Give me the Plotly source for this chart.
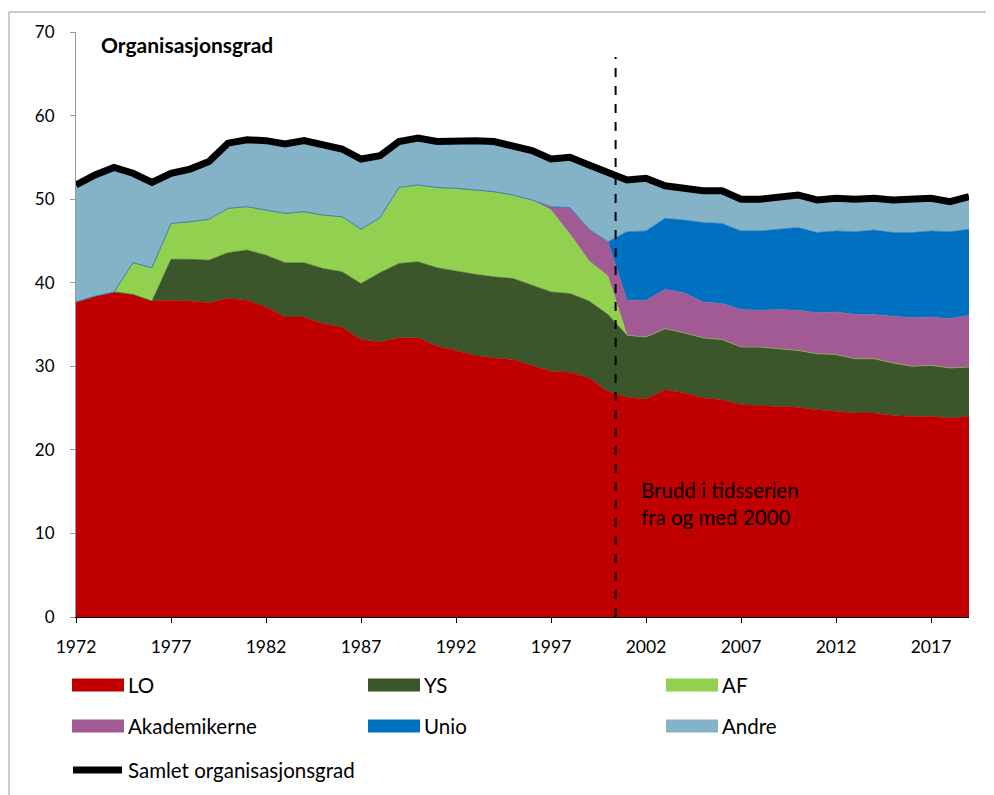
import plotly.graph_objects as go

years = list(range(1972, 2020))

lo = [37.7, 38.4, 38.9, 38.6, 37.8, 37.9, 37.8, 37.6, 38.1, 37.9,
      37.1, 35.9, 35.9, 35.1, 34.7, 33.2, 32.9, 33.4, 33.4, 32.4,
      31.9, 31.3, 31.0, 30.8, 30.1, 29.4, 29.3, 28.6, 27.0, 26.3,
      26.1, 27.2, 26.8, 26.2, 26.0, 25.4, 25.3, 25.2, 25.1, 24.8,
      24.6, 24.4, 24.4, 24.1, 24.0, 24.0, 23.8, 24.0]
ys = [0, 0, 0, 0, 0, 4.9, 5.0, 5.1, 5.5, 6.0,
      6.2, 6.5, 6.5, 6.6, 6.6, 6.7, 8.3, 8.9, 9.1, 9.4,
      9.5, 9.7, 9.7, 9.7, 9.6, 9.5, 9.4, 9.2, 9.2, 7.4,
      7.4, 7.3, 7.2, 7.2, 7.2, 6.9, 7.0, 6.9, 6.8, 6.7,
      6.8, 6.5, 6.5, 6.3, 6.0, 6.1, 6.0, 5.9]
af = [0, 0, 0, 3.8, 4.0, 4.3, 4.5, 4.9, 5.3, 5.2,
      5.4, 5.9, 6.1, 6.4, 6.6, 6.5, 6.6, 9.1, 9.2, 9.6,
      9.9, 10.1, 10.2, 10.0, 10.2, 9.8, 7.1, 4.8, 4.6, 0,
      0, 0, 0, 0, 0, 0, 0, 0, 0, 0,
      0, 0, 0, 0, 0, 0, 0, 0]
akad = [0, 0, 0, 0, 0, 0, 0, 0, 0, 0,
        0, 0, 0, 0, 0, 0, 0, 0, 0, 0,
        0, 0, 0, 0, 0, 0.4, 3.2, 3.8, 4.1, 4.2,
        4.4, 4.7, 4.8, 4.3, 4.3, 4.5, 4.4, 4.7, 4.8, 4.9,
        5.1, 5.3, 5.3, 5.6, 5.8, 5.8, 5.9, 6.2]
unio = [0, 0, 0, 0, 0, 0, 0, 0, 0, 0,
        0, 0, 0, 0, 0, 0, 0, 0, 0, 0,
        0, 0, 0, 0, 0, 0, 0, 0, 0, 8.2,
        8.3, 8.5, 8.7, 9.5, 9.6, 9.4, 9.5, 9.6, 9.9, 9.6,
        9.7, 9.9, 10.1, 10.0, 10.2, 10.3, 10.4, 10.3]
andre = [14.0, 14.5, 14.9, 10.7, 10.2, 6.0, 6.3, 6.9, 7.8, 8.0,
         8.3, 8.3, 8.5, 8.4, 8.1, 8.4, 7.4, 5.5, 5.6, 5.5,
         5.7, 5.9, 6.0, 5.8, 5.9, 5.7, 6.0, 7.7, 8.2, 6.2,
         6.3, 3.9, 3.8, 3.8, 3.9, 3.8, 3.8, 3.8, 3.9, 3.9,
         3.9, 3.9, 3.8, 3.9, 3.9, 3.9, 3.6, 3.9]
samlet = [51.7, 52.9, 53.8, 53.1, 52.0, 53.1, 53.6, 54.5, 56.7, 57.1,
          57.0, 56.6, 57.0, 56.5, 56.0, 54.8, 55.2, 56.9, 57.3, 56.9,
          57.0, 57.0, 56.9, 56.3, 55.8, 54.8, 55.0, 54.1, 53.1, 52.3,
          52.5, 51.6, 51.3, 51.0, 51.0, 50.0, 50.0, 50.2, 50.5, 49.9,
          50.1, 50.0, 50.1, 49.9, 49.9, 50.1, 49.7, 50.3]

series_names = ["LO", "YS", "AF", "Akademikerne", "Unio", "Andre"]
series_values = [lo, ys, af, akad, unio, andre]
series_colors = ["#C00000", "#3B562A", "#92D050", "#A25A94", "#0070C0", "#84B3C8"]
total_name = "Samlet organisasjonsgrad"
break_year = 2000.4
break_text = "Brudd i tidsserien<br>fra og med 2000"
title_text = "<b>Organisasjonsgrad</b>"
x_ticks = list(range(1972, 2020, 5))
y_ticks = list(range(0, 71, 10))

FONT = "Lato"
OFF = 8  # default page body margin

fig = go.Figure()
for name, vals, col in zip(series_names, series_values, series_colors):
    fig.add_trace(go.Scatter(
        x=years, y=vals, name=name, mode="lines",
        stackgroup="one", fillcolor=col,
        line=dict(width=0.6, color=col),
        showlegend=False, hoverinfo="x+y+name",
    ))
fig.add_trace(go.Scatter(
    x=years, y=samlet, name=total_name, mode="lines",
    line=dict(color="black", width=7),
    showlegend=False,
))

# screen geometry of the plot area (in window pixels)
L, R, T, B = 76, 969, 32, 617
W = R - L
H = B - T
def px(x):
    return (x - L) / W
def py(y):
    return (B - y) / H

# break line
fig.add_shape(type="line", xref="x", yref="paper",
              x0=break_year, x1=break_year, y0=0, y1=py(57),
              line=dict(color="black", width=2, dash="dash"))

fig.add_annotation(xref="x", yref="y", x=2001.65, y=13.6, text=break_text,
                   showarrow=False, xanchor="left", yanchor="middle", align="left",
                   font=dict(family=FONT, size=20.5, color="black"))
fig.add_annotation(xref="paper", yref="paper", x=px(99), y=py(44), text=title_text,
                   showarrow=False, xanchor="left", yanchor="middle",
                   font=dict(family=FONT, size=21, color="black"))

# outer frame
fig.add_shape(type="rect", xref="paper", yref="paper",
              x0=px(9), x1=px(989), y0=py(12), y1=py(830),
              line=dict(color="#9a9a9a", width=1), fillcolor="rgba(0,0,0,0)", layer="below")

# manual legend
col_x = [72, 368, 666]
row_y = [685, 726]
for i, (name, col) in enumerate(zip(series_names, series_colors)):
    cx = col_x[i % 3]
    cy = row_y[i // 3]
    fig.add_shape(type="rect", xref="paper", yref="paper",
                  x0=px(cx), x1=px(cx + 52), y0=py(cy - 6.5), y1=py(cy + 6.5),
                  line=dict(width=0), fillcolor=col)
    fig.add_annotation(xref="paper", yref="paper", x=px(cx + 54), y=py(cy),
                       text=name, showarrow=False, xanchor="left", yanchor="middle",
                       font=dict(family=FONT, size=20.5, color="black"))
fig.add_shape(type="line", xref="paper", yref="paper",
              x0=px(73), x1=px(122), y0=py(770), y1=py(770),
              line=dict(color="black", width=7))
fig.add_annotation(xref="paper", yref="paper", x=px(126), y=py(770),
                   text=total_name, showarrow=False, xanchor="left", yanchor="middle",
                   font=dict(family=FONT, size=20.5, color="black"))

fig.update_layout(
    width=994 - OFF, height=795 - OFF,
    margin=dict(l=L - OFF, r=994 - R, t=T - OFF, b=795 - B),
    paper_bgcolor="white", plot_bgcolor="white",
    showlegend=False,
    font=dict(family=FONT, size=17, color="black"),
    xaxis=dict(range=[1972, 2019], tickvals=x_ticks, ticks="outside", ticklen=5,
               tickcolor="black", showline=True, linecolor="black", linewidth=1,
               showgrid=False, zeroline=False, tickfont=dict(size=17.5),
               ticklabelstandoff=9),
    yaxis=dict(range=[0, 70], tickvals=y_ticks, ticks="outside", ticklen=5,
               tickcolor="#9a9a9a", showline=True, linecolor="#9a9a9a", linewidth=1,
               showgrid=False, zeroline=False, tickfont=dict(size=17),
               ticklabelstandoff=12),
)

fig.write_html("out.html")
